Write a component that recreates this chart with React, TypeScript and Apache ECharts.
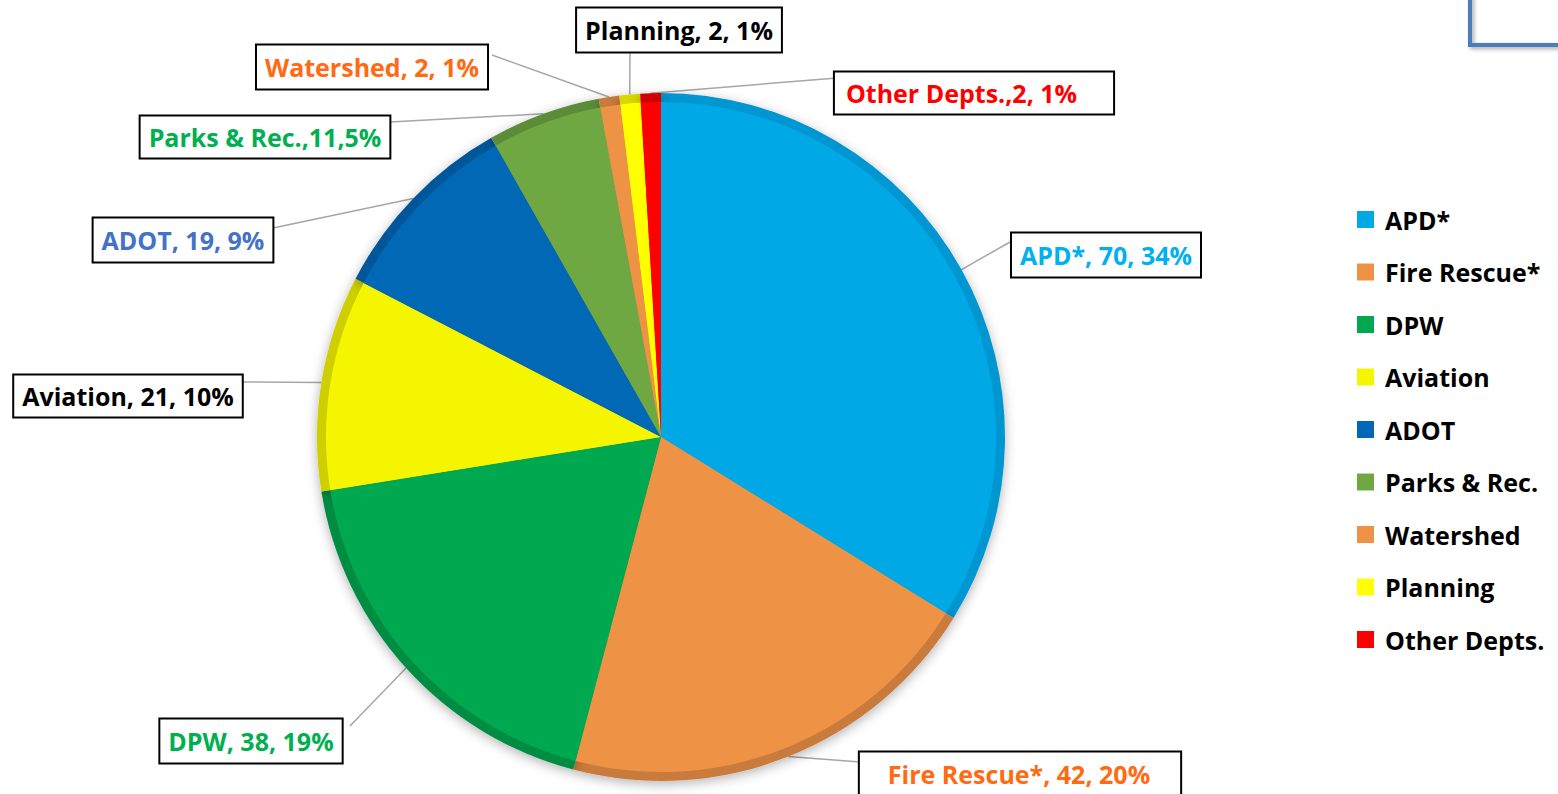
import React, { useEffect, useRef } from "react";
import * as echarts from "echarts";

const categories = ["APD*", "Fire Rescue*", "DPW", "Aviation", "ADOT", "Parks & Rec.", "Watershed", "Planning", "Other Depts."];
const values = [70, 42, 38, 21, 19, 11, 2, 2, 2];
const labelTexts = [
  "APD*, 70, 34%",
  "Fire Rescue*, 42, 20%",
  "DPW, 38, 19%",
  "Aviation, 21, 10%",
  "ADOT, 19, 9%",
  "Parks & Rec.,11,5%",
  "Watershed, 2, 1%",
  "Planning, 2, 1%",
  "Other Depts.,2, 1%",
];
const sliceColors = ["#00A9E6", "#EE9346", "#00A84F", "#F5F500", "#0068B5", "#6FA843", "#EE9346", "#FFFF00", "#FF0000"];
const rimColors = ["#0096D2", "#C97A3C", "#008C42", "#CFCF00", "#00569A", "#5C8C38", "#C97A3C", "#D8D800", "#D00000"];
const labelColors = ["#00B0F0", "#FF6A13", "#00B050", "#000000", "#4472C4", "#00B050", "#FF6A13", "#000000", "#FF0000"];

// label box layout (centres) and where the leader line meets the box
const labelCenters = [
  [1106, 255], [1020, 774], [251, 741], [128, 396], [183, 240], [265, 137], [372, 67], [679, 30], [974, 93],
];
const lineEnds = [
  [1010, 242], [860, 762], [350, 726], [242, 382], [273, 228], [390, 122], [492, 55], [630, 52], [837, 78],
];
const labelPadding = [
  [9, 8, 8, 8], [9, 30, 8, 28], [9, 8, 8, 8], [8, 8, 7, 8], [9, 8, 8, 8], [8, 8, 7, 8], [9, 8, 8, 8], [9, 8, 8, 8], [8, 36, 7, 11],
];

export default function App() {
  const ref = useRef<HTMLDivElement>(null);
  useEffect(() => {
    if (!ref.current) return;
    const chart = echarts.init(ref.current, null, { renderer: "svg" });
    const font = "'Open Sans', Lato, sans-serif";
    chart.setOption({
      animation: false,
      backgroundColor: "#ffffff",
      legend: {
        orient: "vertical",
        left: 1357,
        top: 207,
        padding: 0,
        itemWidth: 17,
        itemHeight: 17,
        itemGap: 27.5,
        icon: "rect",
        data: categories,
        textStyle: { fontFamily: font, fontWeight: "bold", fontSize: 25, color: "#000", lineHeight: 25, padding: [0, 0, 0, 6] },
      },
      graphic: [
        {
          type: "rect",
          shape: { x: 1470, y: -60, width: 200, height: 105 },
          style: { fill: "none", stroke: "#4A7EBB", lineWidth: 4, shadowBlur: 4, shadowColor: "rgba(0,0,0,0.35)", shadowOffsetX: 2, shadowOffsetY: 2 },
        },
      ],
      series: [
        {
          type: "pie",
          name: "main",
          z: 3,
          center: [661, 437],
          radius: [0, 335],
          startAngle: 90,
          clockwise: true,
          silent: true,
          label: { show: false },
          labelLine: { show: false },
          data: categories.map((c, i) => ({ name: c, value: values[i], itemStyle: { color: sliceColors[i] } })),
        },
        {
          type: "pie",
          name: "rim",
          z: 2,
          center: [661, 437],
          radius: [0, 344],
          startAngle: 90,
          clockwise: true,
          silent: true,
          itemStyle: { shadowBlur: 12, shadowColor: "rgba(0,0,0,0.3)", shadowOffsetY: 3 },
          labelLine: { show: true, length: 10, length2: 10, lineStyle: { color: "#A6A6A6", width: 1.5 } },
          data: categories.map((c, i) => ({
            name: c,
            value: values[i],
            itemStyle: { color: rimColors[i] },
            label: {
              show: true,
              formatter: labelTexts[i],
              color: labelColors[i],
              fontFamily: font,
              fontWeight: "bold",
              fontSize: 25,
              lineHeight: 26,
              backgroundColor: "#ffffff",
              borderColor: "#000000",
              borderWidth: 2,
              padding: labelPadding[i],
            },
          })),
          labelLayout: (params: any) => {
            const i = params.dataIndex;
            const [cx, cy] = labelCenters[i];
            const end = lineEnds[i];
            const pts = params.labelLinePoints;
            const start = pts && pts[0] ? [pts[0][0], pts[0][1]] : end;
            return {
              x: cx,
              y: cy,
              align: "center",
              verticalAlign: "middle",
              labelLinePoints: [start, end, end],
            };
          },
        },
      ],
    });
    return () => chart.dispose();
  }, []);
  return <div ref={ref} style={{ position: "absolute", left: 0, top: 0, width: 1558, height: 794 }} />;
}
